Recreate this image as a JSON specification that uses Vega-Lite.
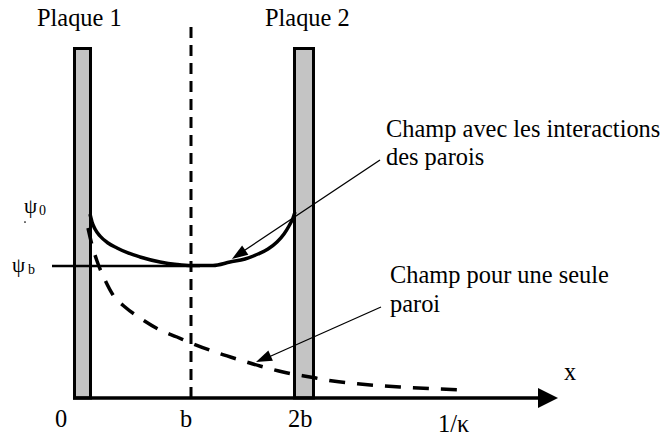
{
  "$schema": "https://vega.github.io/schema/vega-lite/v6.json",
  "width": 666,
  "height": 436,
  "autosize": "none",
  "padding": 0,
  "background": "white",
  "config": {"view": {"stroke": null}},
  "datasets": {
    "plates": [
      {"name": "Plaque 1", "x0": -0.0591, "x1": 0.0864, "y0": 0, "y1": 2.6477},
      {"name": "Plaque 2", "x0": 1.9409, "x1": 2.1136, "y0": 0, "y1": 2.6477}
    ],
    "mid": [{"x": 1.0, "y0": 0, "y1": 2.8258}],
    "psib": [{"x0": -0.2636, "x1": 1.0818, "y": 1.0}],
    "axis": [{"x0": -0.0727, "x1": 4.1727, "y": 0}],
    "axisHead": [{"x": 4.2455, "y": 0}],
    "walls": [
      {"x": 0.0818, "y": 1.3939}, {"x": 0.1, "y": 1.3333}, {"x": 0.1273, "y": 1.2803},
      {"x": 0.1727, "y": 1.2273}, {"x": 0.2455, "y": 1.1742}, {"x": 0.3273, "y": 1.1364},
      {"x": 0.4273, "y": 1.0985}, {"x": 0.5364, "y": 1.0682}, {"x": 0.7182, "y": 1.0303},
      {"x": 0.8727, "y": 1.0114}, {"x": 1.0, "y": 1.0038}, {"x": 1.2, "y": 1.0038},
      {"x": 1.3545, "y": 1.0303}, {"x": 1.4909, "y": 1.053}, {"x": 1.6091, "y": 1.0909},
      {"x": 1.7, "y": 1.1288}, {"x": 1.7818, "y": 1.1818}, {"x": 1.8455, "y": 1.2424},
      {"x": 1.8909, "y": 1.303}, {"x": 1.9273, "y": 1.3636}, {"x": 1.9455, "y": 1.4091}
    ],
    "single": [
      {"x": 0.0636, "y": 1.2879}, {"x": 0.1, "y": 1.1591}, {"x": 0.1455, "y": 1.0379},
      {"x": 0.2182, "y": 0.8939}, {"x": 0.2909, "y": 0.7803}, {"x": 0.4, "y": 0.6894},
      {"x": 0.5364, "y": 0.6061}, {"x": 0.7182, "y": 0.5152}, {"x": 0.8727, "y": 0.4621},
      {"x": 1.0, "y": 0.4167}, {"x": 1.2182, "y": 0.3485}, {"x": 1.4455, "y": 0.2879},
      {"x": 1.6273, "y": 0.2424}, {"x": 1.8364, "y": 0.197}, {"x": 2.0818, "y": 0.1591},
      {"x": 2.2909, "y": 0.1288}, {"x": 2.5364, "y": 0.1061}, {"x": 2.9, "y": 0.0833},
      {"x": 3.2636, "y": 0.0682}, {"x": 3.5182, "y": 0.0606}
    ],
    "leaders": [
      {"x0": 2.7182, "y0": 1.803, "x1": 1.4091, "y1": 1.0758},
      {"x0": 2.7273, "y0": 0.6894, "x1": 1.6455, "y1": 0.2879}
    ],
    "head1": [{"x": 1.4327, "y": 1.0871}],
    "head2": [{"x": 1.6573, "y": 0.297}],
    "labels": [
      {"x": -0.4, "y": 2.8182, "text": "Plaque 1"},
      {"x": 1.6727, "y": 2.8182, "text": "Plaque 2"},
      {"x": 2.7727, "y": 1.9773, "text": "Champ avec les interactions"},
      {"x": 2.7727, "y": 1.7652, "text": "des parois"},
      {"x": 2.8091, "y": 0.8712, "text": "Champ pour une seule"},
      {"x": 2.8091, "y": 0.6515, "text": "paroi"},
      {"x": 4.3909, "y": 0.1364, "text": "x"},
      {"x": 3.2455, "y": -0.2576, "text": "1/κ"},
      {"x": -0.2364, "y": -0.2197, "text": "0"},
      {"x": 0.9, "y": -0.2197, "text": "b"},
      {"x": 1.8818, "y": -0.2197, "text": "2b"}
    ],
    "psi": [
      {"x": -0.5182, "y": 1.4015, "text": "ψ"},
      {"x": -0.6273, "y": 0.9545, "text": "ψ"}
    ],
    "subs": [
      {"x": -0.3818, "y": 1.3864, "text": "0"},
      {"x": -0.4818, "y": 0.9394, "text": "b"}
    ],
    "dot": [{"x": -0.5091, "y": 1.3333}]
  },
  "encoding": {
    "x": {"type": "quantitative", "scale": {"domain": [-0.736364, 5.318182], "nice": false, "zero": false}, "axis": null},
    "y": {"type": "quantitative", "scale": {"domain": [-0.287879, 3.015152], "nice": false, "zero": false}, "axis": null}
  },
  "layer": [
    {
      "data": {"name": "plates"},
      "mark": {"type": "rect", "fill": "#c4c4c4", "stroke": "black", "strokeWidth": 3},
      "encoding": {
        "x": {"field": "x0", "type": "quantitative"},
        "x2": {"field": "x1"},
        "y": {"field": "y0", "type": "quantitative"},
        "y2": {"field": "y1"}
      }
    },
    {
      "data": {"name": "mid"},
      "mark": {"type": "rule", "stroke": "black", "strokeWidth": 3, "strokeDash": [11, 7]},
      "encoding": {
        "x": {"field": "x", "type": "quantitative"},
        "y": {"field": "y0", "type": "quantitative"},
        "y2": {"field": "y1"}
      }
    },
    {
      "data": {"name": "psib"},
      "mark": {"type": "rule", "stroke": "black", "strokeWidth": 2.5},
      "encoding": {
        "x": {"field": "x0", "type": "quantitative"},
        "x2": {"field": "x1"},
        "y": {"field": "y", "type": "quantitative"}
      }
    },
    {
      "data": {"name": "axis"},
      "mark": {"type": "rule", "stroke": "black", "strokeWidth": 3.5},
      "encoding": {
        "x": {"field": "x0", "type": "quantitative"},
        "x2": {"field": "x1"},
        "y": {"field": "y", "type": "quantitative"}
      }
    },
    {
      "data": {"name": "axisHead"},
      "mark": {"type": "point", "shape": "M 1 0 L -1 -1 L -1 1 Z", "size": 400, "filled": true, "fill": "black", "strokeWidth": 0, "opacity": 1},
      "encoding": {
        "x": {"field": "x", "type": "quantitative"},
        "y": {"field": "y", "type": "quantitative"}
      }
    },
    {
      "data": {"name": "walls"},
      "mark": {"type": "line", "stroke": "black", "strokeWidth": 3.5, "interpolate": "monotone"},
      "encoding": {
        "x": {"field": "x", "type": "quantitative"},
        "y": {"field": "y", "type": "quantitative"}
      }
    },
    {
      "data": {"name": "single"},
      "mark": {"type": "line", "stroke": "black", "strokeWidth": 3.5, "strokeDash": [16, 12], "interpolate": "monotone"},
      "encoding": {
        "x": {"field": "x", "type": "quantitative"},
        "y": {"field": "y", "type": "quantitative"}
      }
    },
    {
      "data": {"name": "leaders"},
      "mark": {"type": "rule", "stroke": "black", "strokeWidth": 1.3},
      "encoding": {
        "x": {"field": "x0", "type": "quantitative"},
        "x2": {"field": "x1"},
        "y": {"field": "y0", "type": "quantitative"},
        "y2": {"field": "y1"}
      }
    },
    {
      "data": {"name": "head1"},
      "mark": {"type": "point", "shape": "M 1 0 L -1 -0.7 L -1 0.7 Z", "size": 256, "angle": 146.2, "filled": true, "fill": "black", "strokeWidth": 0, "opacity": 1},
      "encoding": {
        "x": {"field": "x", "type": "quantitative"},
        "y": {"field": "y", "type": "quantitative"}
      }
    },
    {
      "data": {"name": "head2"},
      "mark": {"type": "point", "shape": "M 1 0 L -1 -0.7 L -1 0.7 Z", "size": 256, "angle": 156.1, "filled": true, "fill": "black", "strokeWidth": 0, "opacity": 1},
      "encoding": {
        "x": {"field": "x", "type": "quantitative"},
        "y": {"field": "y", "type": "quantitative"}
      }
    },
    {
      "data": {"name": "labels"},
      "mark": {"type": "text", "font": "Liberation Serif", "fontSize": 24.4, "align": "left", "baseline": "alphabetic", "fill": "black"},
      "encoding": {
        "x": {"field": "x", "type": "quantitative"},
        "y": {"field": "y", "type": "quantitative"},
        "text": {"field": "text"}
      }
    },
    {
      "data": {"name": "psi"},
      "mark": {"type": "text", "font": "Liberation Serif", "fontSize": 21, "align": "left", "baseline": "alphabetic", "fill": "black"},
      "encoding": {
        "x": {"field": "x", "type": "quantitative"},
        "y": {"field": "y", "type": "quantitative"},
        "text": {"field": "text"}
      }
    },
    {
      "data": {"name": "subs"},
      "mark": {"type": "text", "font": "Liberation Serif", "fontSize": 14, "align": "left", "baseline": "alphabetic", "fill": "black"},
      "encoding": {
        "x": {"field": "x", "type": "quantitative"},
        "y": {"field": "y", "type": "quantitative"},
        "text": {"field": "text"}
      }
    },
    {
      "data": {"name": "dot"},
      "mark": {"type": "point", "shape": "circle", "size": 3, "filled": true, "fill": "black", "opacity": 1, "strokeWidth": 0},
      "encoding": {
        "x": {"field": "x", "type": "quantitative"},
        "y": {"field": "y", "type": "quantitative"}
      }
    }
  ]
}
